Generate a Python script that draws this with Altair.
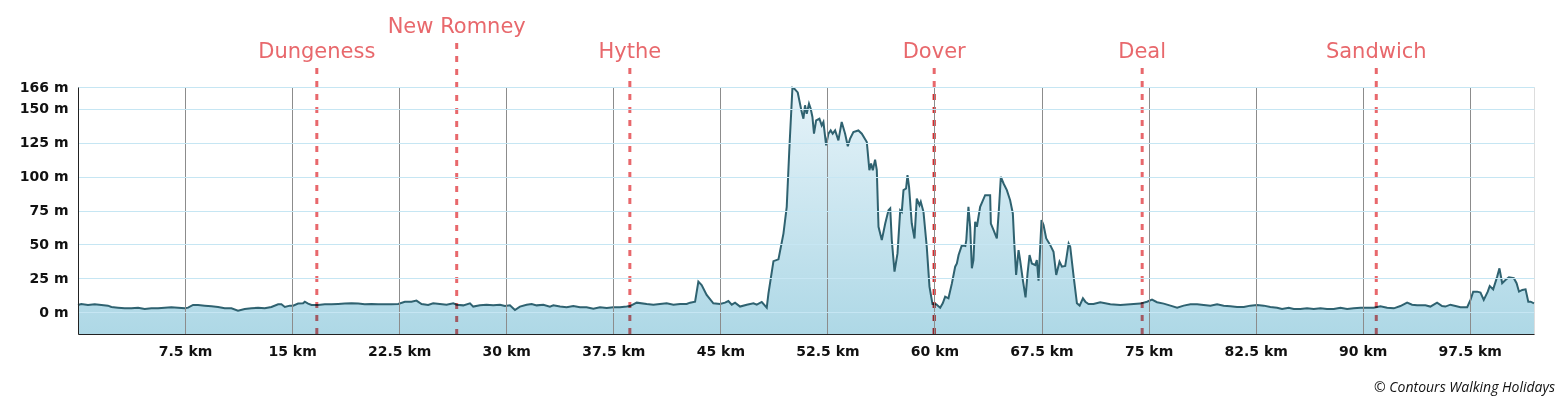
import altair as alt
import pandas as pd

# ---------------- data ----------------
KM = [0.0, 0.23, 0.70, 1.17, 1.64, 2.10, 2.34, 2.80, 3.27, 3.74, 4.21, 4.67, 5.14, 5.61, 6.07,
      6.54, 7.01, 7.48, 7.71, 8.06, 8.41, 8.88, 9.35, 9.81, 10.28, 10.75, 11.21, 11.68, 12.15,
      12.62, 13.08, 13.55, 14.02, 14.25, 14.49, 14.84, 15.07, 15.42, 15.77, 15.89, 16.12, 16.36,
      16.82, 17.29, 17.76, 18.22, 18.69, 19.16, 19.63, 20.09, 20.56, 21.03, 21.50, 21.96, 22.43,
      22.90, 23.36, 23.71, 24.07, 24.53, 24.88, 25.35, 25.82, 26.29, 26.52, 26.99, 27.46, 27.69,
      28.16, 28.62, 29.09, 29.56, 29.91, 30.26, 30.61, 30.96, 31.43, 31.78, 32.13, 32.60, 33.06,
      33.30, 33.77, 34.23, 34.70, 35.17, 35.63, 36.10, 36.57, 37.04, 37.50, 37.97, 38.44, 38.67,
      39.14, 39.84, 40.31, 40.77, 41.24, 41.71, 42.18, 42.64, 42.88, 43.23, 43.46, 43.69, 44.04,
      44.51, 44.98, 45.33, 45.56, 45.80, 46.03, 46.38, 46.85, 47.32, 47.55, 47.90, 48.25, 48.37,
      48.72, 49.07, 49.42, 49.65, 49.84, 50.05, 50.19, 50.42, 50.58, 50.70, 50.82, 50.93, 51.05,
      51.21, 51.33, 51.45, 51.56, 51.71, 51.94, 52.10, 52.22, 52.41, 52.57, 52.73, 52.87, 53.04,
      53.27, 53.50, 53.74, 53.93, 54.09, 54.32, 54.67, 54.91, 55.26, 55.44, 55.56, 55.68, 55.84,
      55.96, 56.08, 56.31, 56.55, 56.78, 56.90, 57.01, 57.20, 57.41, 57.60, 57.71, 57.83, 58.01,
      58.11, 58.22, 58.41, 58.60, 58.76, 58.95, 59.04, 59.23, 59.46, 59.65, 59.86, 60.12, 60.40,
      60.58, 60.75, 60.98, 61.22, 61.45, 61.57, 61.69, 61.92, 62.16, 62.23, 62.38, 62.50, 62.62,
      62.73, 62.85, 62.97, 63.20, 63.55, 63.79, 63.90, 63.95, 64.14, 64.37, 64.51, 64.65, 64.84,
      65.07, 65.30, 65.49, 65.58, 65.72, 65.89, 66.00, 66.19, 66.38, 66.52, 66.66, 66.82, 67.06,
      67.17, 67.29, 67.50, 67.64, 67.83, 68.11, 68.34, 68.53, 68.76, 68.93, 69.16, 69.40, 69.51,
      69.75, 69.98, 70.17, 70.40, 70.57, 70.79, 71.14, 71.61, 72.32, 73.02, 73.72, 74.42, 74.89,
      75.24, 75.59, 76.06, 76.53, 77.00, 77.46, 77.93, 78.40, 78.86, 79.33, 79.80, 80.26, 80.73,
      81.20, 81.67, 82.13, 82.60, 83.07, 83.53, 84.00, 84.35, 84.82, 85.17, 85.63, 86.10, 86.57,
      87.04, 87.50, 87.97, 88.44, 88.91, 89.37, 89.84, 90.31, 90.77, 91.24, 91.71, 92.18, 92.64,
      93.11, 93.46, 93.81, 94.39, 94.74, 95.21, 95.56, 95.79, 96.14, 96.50, 96.85, 97.32, 97.55,
      97.74, 98.02, 98.25, 98.48, 98.76, 98.90, 99.14, 99.42, 99.58, 99.77, 100.00, 100.24,
      100.59, 100.78, 100.95, 101.18, 101.41, 101.60, 101.76, 102.0]

ELEV = [5.4, 6.1, 5.4, 5.9, 5.4, 4.9, 3.9, 3.4, 2.9, 2.9, 3.4, 2.4, 2.9, 2.9, 3.4,
        3.7, 3.4, 2.9, 3.4, 5.4, 5.4, 4.9, 4.4, 3.9, 2.9, 2.9, 1.2, 2.4, 2.9,
        3.4, 2.9, 3.9, 5.9, 5.9, 3.9, 4.9, 4.9, 6.4, 6.6, 7.8, 6.4, 5.4,
        5.4, 5.9, 5.9, 6.1, 6.4, 6.6, 6.4, 5.9, 6.1, 5.9, 5.9, 5.9, 6.1,
        7.8, 7.8, 8.6, 6.1, 5.4, 6.6, 6.1, 5.6, 6.6, 5.6, 5.1, 6.6, 4.2,
        5.1, 5.6, 5.1, 5.6, 4.6, 5.1, 1.7, 4.2, 5.6, 6.1, 5.1, 5.6, 4.2,
        5.1, 4.2, 3.7, 4.6, 3.7, 3.7, 2.7, 3.7, 3.2, 3.7, 3.7, 4.2, 4.6,
        7.1, 6.1, 5.6, 6.1, 6.6, 5.6, 6.1, 6.1, 7.1, 7.8, 22.6, 20.1, 12.8,
        6.6, 6.1, 7.1, 8.3, 5.6, 7.1, 4.2, 5.6, 6.6, 5.6, 7.6, 3.4, 14.0,
        37.7, 39.0, 58.0, 77.7, 121.8, 165.4, 164.7, 162.0, 153.7, 147.5, 142.6, 152.5, 146.3,
        153.7, 150.0, 143.9, 131.6, 141.4, 142.6, 137.7, 140.2, 123.0, 131.6, 134.0, 131.6, 134.0,
        126.7, 140.2, 131.6, 122.3, 128.0, 132.8, 134.0, 131.6, 125.5, 104.7, 109.6, 104.7, 112.5,
        104.7, 63.0, 53.2, 65.4, 75.2, 76.5, 53.2, 29.9, 43.4, 75.2, 74.0, 90.0, 91.2,
        101.0, 92.4, 65.4, 54.4, 83.8, 78.9, 81.4, 74.0, 48.3, 18.9, 6.1, 5.9, 3.4,
        6.6, 11.5, 10.3, 21.3, 33.6, 36.0, 42.2, 49.5, 48.8, 53.2, 77.7, 63.0, 32.4,
        38.5, 66.7, 63.0, 77.7, 86.3, 86.3, 86.3, 65.4, 60.5, 54.4, 75.2, 99.8, 94.9,
        90.0, 82.6, 72.8, 53.2, 27.5, 45.8, 38.5, 23.8, 11.0, 28.7, 42.2, 36.0, 34.8,
        38.5, 23.3, 67.9, 64.2, 54.4, 49.5, 44.6, 27.5, 37.3, 33.6, 34.1, 50.7, 48.3,
        26.2, 6.6, 4.9, 10.3, 7.8, 6.1, 6.1, 7.4, 5.9, 5.4, 5.9, 6.4, 7.8,
        9.3, 7.4, 6.4, 4.9, 3.4, 4.9, 5.9, 5.9, 5.4, 4.9, 5.9, 4.9, 4.4,
        3.9, 3.9, 4.9, 5.4, 4.9, 3.9, 3.4, 2.4, 3.4, 2.4, 2.4, 2.9, 2.4,
        2.9, 2.4, 2.4, 3.4, 2.4, 2.9, 3.4, 3.4, 3.4, 4.4, 3.4, 2.9, 4.6,
        7.1, 5.6, 5.1, 5.1, 4.2, 7.1, 4.6, 4.2, 5.6, 4.6, 3.7, 3.7, 9.1,
        15.2, 15.2, 14.5, 9.1, 15.2, 19.4, 16.9, 26.3, 32.4, 21.4, 23.8, 25.8,
        25.1, 21.4, 15.2, 16.5, 16.9, 7.8, 7.8, 6.6]

TOWNS = ["Dungeness", "New Romney", "Hythe", "Dover", "Deal", "Sandwich"]
TOWN_KM = [16.73, 26.53, 38.66, 59.98, 74.55, 90.95]

X_TICKS = [7.5, 15, 22.5, 30, 37.5, 45, 52.5, 60, 67.5, 75, 82.5, 90, 97.5]
Y_TICKS = [0, 25, 50, 75, 100, 125, 150, 166]
COPYRIGHT = ["\u00a9 Contours Walking Holidays"]

# ---------------- styling ----------------
W, H = 1456, 247
RED = "#e8686c"
LINE = "#2f6270"
AXIS_FONT = "DejaVu Sans"

profile = pd.DataFrame({"km": KM, "elev": ELEV})
towns = pd.DataFrame({"town": TOWNS, "km": TOWN_KM})
copy_df = pd.DataFrame({"t": COPYRIGHT})

xscale = alt.Scale(domain=[0, 102], nice=False, zero=False)
yscale = alt.Scale(domain=[-16, 166], nice=False, zero=False)

x_axis = alt.Axis(
    values=X_TICKS, labelExpr="datum.value + ' km'", title=None, ticks=False,
    grid=True, gridColor="#8c8c8c", gridWidth=1, domainColor="#222222",
    labelFont=AXIS_FONT, labelFontSize=14, labelFontWeight="bold", labelColor="#111111",
    labelPadding=10, zindex=1, labelFlush=False, labelOverlap=False)
y_axis = alt.Axis(
    values=Y_TICKS, labelExpr="datum.value + ' m'", title=None, ticks=False,
    grid=True, gridColor="#c6e6f3", gridWidth=1, domainColor="#222222",
    labelFont=AXIS_FONT, labelFontSize=14, labelFontWeight="bold", labelColor="#111111",
    labelPadding=10, zindex=1, labelFlush=False, labelOverlap=False)

grad = alt.Gradient(
    gradient="linear",
    stops=[alt.GradientStop(color="#e6f3f9", offset=0),
           alt.GradientStop(color="#aed8e6", offset=1)],
    x1=1, x2=1, y1=0, y2=1)

base = alt.Chart(profile).encode(
    x=alt.X("km:Q", scale=xscale, axis=x_axis),
    y=alt.Y("elev:Q", scale=yscale, axis=y_axis),
)
area = base.mark_area(color=grad).encode(y2=alt.datum(-16))
line = base.mark_line(color=LINE, strokeWidth=2)

tchart = alt.Chart(towns)
rule_main = tchart.transform_filter("datum.town != 'New Romney'").mark_rule(
    color=RED, strokeWidth=3, strokeDash=[6, 7], blend="multiply").encode(
    x="km:Q", y=alt.value(-19), y2=alt.value(H))
rule_nr = tchart.transform_filter("datum.town == 'New Romney'").mark_rule(
    color=RED, strokeWidth=3, strokeDash=[6, 7], blend="multiply").encode(
    x="km:Q", y=alt.value(-44), y2=alt.value(H))
rule_dover = tchart.transform_filter("datum.town == 'Dover'").mark_rule(
    color=RED, strokeWidth=3, strokeDash=[6, 7], strokeDashOffset=6, blend="multiply").encode(
    x="km:Q", y=alt.value(0), y2=alt.value(H))

lab_main = tchart.transform_filter("datum.town != 'New Romney'").mark_text(
    font="DejaVu Sans", fontSize=21, color=RED, baseline="middle", align="center").encode(
    x="km:Q", y=alt.value(-35), text="town:N")
lab_nr = tchart.transform_filter("datum.town == 'New Romney'").mark_text(
    font="DejaVu Sans", fontSize=21, color=RED, baseline="middle", align="center").encode(
    x="km:Q", y=alt.value(-60), text="town:N")

copy_txt = alt.Chart(copy_df).mark_text(
    font="Open Sans", fontSize=14, fontStyle="italic", color="#111111",
    align="right", baseline="middle").encode(
    x=alt.value(W + 21), y=alt.value(H + 54), text="t:N")

chart = alt.layer(area, line, rule_main, rule_nr, rule_dover, lab_main, lab_nr, copy_txt).properties(
    width=W, height=H,
    padding={"left": 70, "top": 79, "right": 22, "bottom": 65},
    autosize=alt.AutoSizeParams(type="none"),
).configure_view(stroke="#777777", strokeWidth=1).configure(background="white")

chart.save("out.html", embed_options={"renderer": "svg", "actions": False})
